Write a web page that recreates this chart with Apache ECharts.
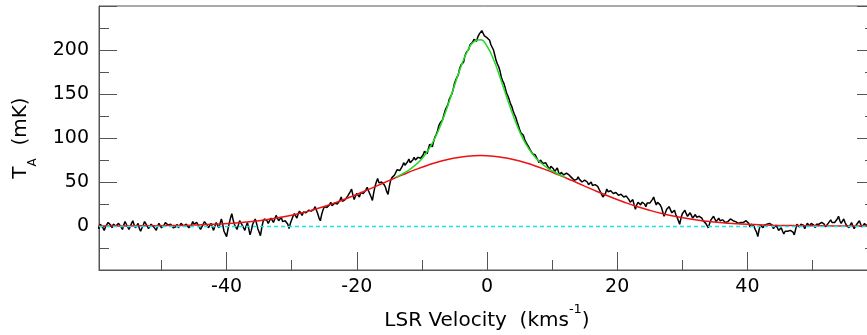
<!DOCTYPE html>
<html><head><meta charset="utf-8">
<script src="https://cdn.jsdelivr.net/npm/echarts@6/dist/echarts.min.js"></script>
<style>html,body{margin:0;padding:0;background:#fff}#c{width:867px;height:335px}</style>
</head><body><div id="c"></div>
<script>
// Spectrum channels: velocity of channel i = velStart + i*velStep (km/s)
const velStart = -60;
const velStep = 0.2;
const spectrumTa = [
  // -60.0 .. -41.8
  2,0,-3,2,1,-2,-5,-1,0,4,3,1,-2,2,4,0,-1,3,2,-1,-4,1,5,2,0,-4,-3,3,6,1,-2,0,3,-3,-6,-2,1,5,4,0,-3,-1,2,3,-1,-1,
  -5,0,3,1,-2,-3,1,4,5,1,-1,2,3,-2,-4,-1,2,-2,0,3,4,0,-2,2,1,-2,-3,1,5,2,0,4,3,-1,-4,-1,2,5,6,1,-2,0,3,-1,-5,0,
  // -41.6 .. -29.8
  4,1,-2,3,8,2,-6,-9,-12,-4,3,9,14,7,2,-1,-4,1,6,4,1,-2,-5,0,4,-3,-10,-5,2,5,
  8,3,-3,-7,-11,-2,5,8,10,6,3,5,9,7,4,8,12,9,6,7,10,5,3,6,8,2,-3,3,7,11,
  // -29.6 .. -14.2
  14,12,9,14,17,15,12,16,18,15,13,18,20,17,15,19,22,18,14,9,6,13,18,22,24,21,19,24,27,23,21,26,28,25,24,29,33,28,26,30,
  31,34,36,39,42,35,30,34,37,35,33,38,40,37,35,41,44,40,38,33,29,38,45,50,54,49,47,50,51,47,44,39,36,45,52,55,57,58,
  // -14.0 .. -7.8
  60,64,66,63,62,68,72,69,68,73,76,72,70,75,78,75,73,78,80,77,76,81,85,83,82,88,93,91,90,96,101,104,
  // -7.6 .. 4.2
  108,114,117,118,121,127,132,134,138,144,147,150,155,162,166,168,172,179,183,183,186,193,197,198,201,206,208,209,212,213,
  210,215,218,220,222,219,216,217,214,213,211,206,204,200,194,188,184,181,176,169,165,162,157,151,148,144,139,136,131,127,
  // 4.4 .. 12.2
  124,119,118,110,106,106,103,98,95,93,90,87,86,82,80,81,79,75,72,75,76,71,69,72,73,67,64,68,70,65,62,64,66,61,58,61,63,58,56,60,
  // 12.4 .. 36.2
  61,58,57,55,54,52,50,53,56,53,52,50,49,52,54,50,47,49,50,46,44,47,49,45,42,39,36,33,31,37,42,39,37,40,41,37,35,38,39,35,
  33,36,37,33,31,34,35,30,27,29,30,24,19,24,27,25,24,27,29,25,22,26,28,26,25,30,33,28,24,27,28,24,21,16,11,15,19,21,22,18,
  15,17,18,13,10,6,2,9,14,16,18,14,11,13,15,12,9,11,13,10,8,11,12,9,6,4,3,1,-2,3,7,9,11,8,5,7,9,6,4,7,
  // 36.4 .. 60.0
  8,4,2,5,6,8,10,6,4,5,7,3,1,4,6,4,3,6,8,3,-1,2,4,0,-4,-7,-12,-4,1,-1,-2,1,3,2,0,3,5,1,-3,-1,
  1,-2,-5,-4,-2,-6,-9,-6,-4,-6,-8,-5,-3,-7,-10,-4,2,0,-1,2,4,1,-3,0,3,2,0,3,5,1,-2,2,4,2,1,4,6,2,-1,1,
  3,5,7,4,2,4,5,8,11,6,3,5,8,4,1,-1,-2,1,4,0,-3,-1,2,4,6,2,-1,1,3,0,-2,3,8,5,2,4,5,2,1
];
// Broad component fit (red)
const redVel = [-60, -59, -57, -55, -53, -51, -49, -47, -45, -43, -41, -39, -37, -35, -33, -31, -29, -27, -25, -23, -21,
  -19, -17, -15, -13, -11, -9, -7, -5, -3, -1, 1, 3, 5, 7, 9, 11, 13, 15, 17, 19, 21, 23, 25, 27, 29, 31, 33, 35, 37, 39,
  41, 43, 45, 47, 49, 51, 53, 55, 57, 59, 60];
const redTa = [0.0, 0.0, 0.1, 0.1, 0.2, 0.3, 0.5, 0.7, 1.1, 1.6, 2.3, 3.2, 4.5, 6.1, 8.2, 10.8, 14.0, 17.8, 22.2, 27.3, 32.9,
  38.9, 45.3, 51.8, 58.1, 64.1, 69.4, 73.8, 77.2, 79.3, 80.0, 79.3, 77.2, 73.8, 69.4, 64.1, 58.1, 51.8, 45.3, 38.9, 32.9,
  27.3, 22.2, 17.8, 14.0, 10.8, 8.2, 6.1, 4.5, 3.2, 2.3, 1.6, 1.1, 0.7, 0.5, 0.3, 0.2, 0.1, 0.1, 0.0, 0.0, 0.0];
// Total fit (green)
const greenVel = [-14, -13, -12, -11, -10, -9, -8, -7, -6, -5, -4, -3, -2, -1, 0, 1, 2, 3, 4, 5, 6, 7, 8, 9, 10, 11, 12];
const greenTa = [55.5, 59.3, 63.6, 69.3, 76.5, 86.5, 99.8, 116.9, 137.3, 159.5, 181.1, 198.8, 209.6, 211.6, 204.3, 189.3,
  169.1, 147.0, 125.8, 107.4, 92.7, 81.7, 73.5, 67.5, 62.7, 58.8, 55.3];
const xMajorTicks = [-40, -20, 0, 20, 40];
const xMinorTicks = [-50, -30, -10, 10, 30, 50];
const yTickLabels = [0, 50, 100, 150, 200];

const spectrum = spectrumTa.map((t, i) => [+(velStart + i * velStep).toFixed(2), t]);
const redData = redVel.map((v, i) => [v, redTa[i]]);
const greenData = greenVel.map((v, i) => [v, greenTa[i]]);

const axisColor = '#555';
const font = 'DejaVu Sans';
const chart = echarts.init(document.getElementById('c'));
chart.setOption({
  animation: false,
  backgroundColor: '#fff',
  grid: {left: 99, top: 6, width: 776, height: 264, show: true, borderColor: axisColor, borderWidth: 1,
    outerBoundsMode: 'none', containLabel: false},
  xAxis: [
    {
      type: 'value', min: -59.6, max: 59.6, position: 'bottom',
      axisLine: {show: true, onZero: false, lineStyle: {color: axisColor}},
      axisTick: {show: true, inside: true, length: 18, customValues: xMajorTicks, lineStyle: {color: axisColor}},
      axisLabel: {customValues: xMajorTicks, color: '#000', fontFamily: font, fontSize: 19, margin: 8},
      splitLine: {show: false},
      name: '{n|LSR Velocity  (kms}{s|-1}{n|)}', nameLocation: 'middle', nameGap: 33,
      nameTextStyle: {rich: {
        n: {fontFamily: font, fontSize: 20, lineHeight: 36, color: '#000'},
        s: {fontFamily: font, fontSize: 13, lineHeight: 13, verticalAlign: 'top', color: '#000'}
      }}
    },
    {
      type: 'value', min: -59.6, max: 59.6, position: 'bottom',
      axisLine: {show: false, onZero: false},
      axisTick: {show: true, inside: true, length: 10, customValues: xMinorTicks, lineStyle: {color: axisColor}},
      axisLabel: {show: false}, splitLine: {show: false}
    }
  ],
  yAxis: [
    {
      type: 'value', min: -50, max: 250, interval: 50, position: 'left',
      axisLine: {show: true, onZero: false, lineStyle: {color: axisColor}},
      axisTick: {show: true, inside: true, length: 18, lineStyle: {color: axisColor}},
      minorTick: {show: true, splitNumber: 2, length: 10, lineStyle: {color: axisColor}},
      axisLabel: {customValues: yTickLabels, color: '#000', fontFamily: font, fontSize: 19, margin: 10},
      splitLine: {show: false}, minorSplitLine: {show: false},
      name: '{t|T}{s|A}{t|  (mK)}', nameLocation: 'middle', nameRotate: 90, nameGap: 60,
      nameTextStyle: {rich: {
        t: {fontFamily: font, fontSize: 20, lineHeight: 36, color: '#000'},
        s: {fontFamily: font, fontSize: 12, lineHeight: 12, verticalAlign: 'bottom', color: '#000'}
      }}
    },
    {
      type: 'value', min: -50, max: 250, interval: 50, position: 'right',
      axisLine: {show: true, onZero: false, lineStyle: {color: axisColor}},
      axisTick: {show: true, inside: true, length: 18, lineStyle: {color: axisColor}},
      minorTick: {show: true, splitNumber: 2, length: 10, lineStyle: {color: axisColor}},
      axisLabel: {show: false}, splitLine: {show: false}, minorSplitLine: {show: false}
    }
  ],
  series: [
    {
      type: 'line', data: [], z: 1, silent: true,
      markLine: {silent: true, symbol: 'none', label: {show: false}, animation: false,
        lineStyle: {color: '#1ee0ee', type: [4, 3], width: 1.4}, data: [{yAxis: 0}]}
    },
    {
      type: 'line', data: spectrum, showSymbol: false, z: 2,
      lineStyle: {color: '#000', width: 1.5}
    },
    {
      type: 'line', data: redData, showSymbol: false, smooth: true, z: 3,
      lineStyle: {color: '#ee1111', width: 1.5}
    },
    {
      type: 'line', data: greenData, showSymbol: false, smooth: true, z: 4,
      lineStyle: {color: '#22dd22', width: 1.5}
    }
  ]
});
</script>
</body></html>
